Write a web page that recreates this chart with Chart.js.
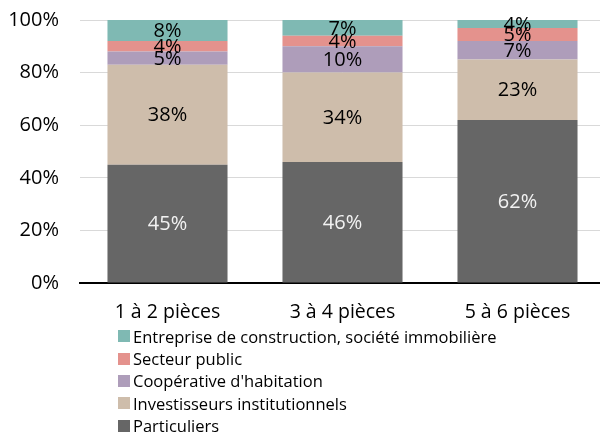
<!DOCTYPE html>
<html lang="fr">
<head>
<meta charset="utf-8">
<title>Propriétaires selon la taille du logement</title>
<script src="https://cdn.jsdelivr.net/npm/chart.js@4.4.1/dist/chart.umd.min.js"></script>
<style>
  html, body { margin: 0; padding: 0; background: #fff; width: 600px; height: 435px; overflow: hidden; }
  #wrap { position: absolute; left: 0; top: 0; width: 605px; height: 330px; }
  #legend { position: absolute; left: 118px; top: 325px; font-family: "Open Sans", sans-serif; font-size: 16.5px; color: #000; }
  .row { display: flex; align-items: center; height: 22.4px; white-space: nowrap; }
  .box { width: 12px; height: 12px; margin-right: 3px; flex: none; }
</style>
</head>
<body>
<div id="wrap"><canvas id="chart"></canvas></div>
<div id="legend"></div>
<script>
// Taille du logement
const categories = ['1 à 2 pièces', '3 à 4 pièces', '5 à 6 pièces'];

// Parts par type de propriétaire (en %)
const particuliers = [45, 46, 62];
const investisseurs = [38, 34, 23];
const cooperative = [5, 10, 7];
const secteurPublic = [4, 4, 5];
const entreprise = [8, 7, 4];

// Graduations de l'axe vertical
const yTicks = [0, 20, 40, 60, 80, 100];

const FONT = '"Open Sans", sans-serif';

// Étiquettes de valeur au centre de chaque segment
const valueLabels = {
  id: 'valueLabels',
  afterDatasetsDraw(chart) {
    const { ctx, chartArea } = chart;
    ctx.save();
    ctx.font = '20px ' + FONT;
    ctx.textAlign = 'center';
    ctx.textBaseline = 'middle';
    chart.data.datasets.forEach((ds, i) => {
      const meta = chart.getDatasetMeta(i);
      meta.data.forEach((bar, j) => {
        const top = Math.max(Math.min(bar.y, bar.base), chartArea.top);
        const bottom = Math.min(Math.max(bar.y, bar.base), chartArea.bottom);
        ctx.fillStyle = ds.labelColor;
        ctx.fillText(ds.data[j] + '%', bar.x, (top + bottom) / 2 + 1);
      });
    });
    ctx.restore();
  }
};

function draw() {
  const chart = new Chart(document.getElementById('chart'), {
    type: 'bar',
    data: {
      labels: categories,
      datasets: [
        { label: 'Particuliers', data: particuliers, backgroundColor: '#666666', labelColor: '#f2f2f2' },
        { label: 'Investisseurs institutionnels', data: investisseurs, backgroundColor: '#cebdab', labelColor: '#000' },
        { label: "Coopérative d'habitation", data: cooperative, backgroundColor: '#ae9dba', labelColor: '#000' },
        { label: 'Secteur public', data: secteurPublic, backgroundColor: '#e4928d', labelColor: '#000' },
        { label: 'Entreprise de construction, société immobilière', data: entreprise, backgroundColor: '#7fb9b3', labelColor: '#000' }
      ]
    },
    options: {
      responsive: true,
      maintainAspectRatio: false,
      animation: false,
      datasets: { bar: { categoryPercentage: 1, barPercentage: 0.686 } },
      layout: { padding: { top: 20, left: 0, right: 0, bottom: 0 } },
      plugins: { legend: { display: false }, tooltip: { enabled: false } },
      scales: {
        x: {
          stacked: true,
          grid: { display: false },
          border: { display: true, color: '#000', width: 2 },
          ticks: { color: '#000', font: { family: FONT, size: 19.5 }, padding: 10 },
          afterFit(s) { s.height = 47; s.paddingLeft = 0; s.paddingRight = 0; }
        },
        y: {
          stacked: true,
          min: 0,
          max: 100,
          afterBuildTicks(s) { s.ticks = yTicks.map(v => ({ value: v })); },
          grid: { color: '#d9d9d9', lineWidth: 1, drawTicks: false },
          border: { display: false },
          ticks: { color: '#000', font: { family: FONT, size: 20 }, padding: 21, callback: v => v + '%' },
          afterFit(s) { s.width = 80; s.paddingTop = 0; s.paddingBottom = 0; }
        }
      }
    },
    plugins: [valueLabels]
  });

  // Légende verticale, ordre inverse de l'empilement
  const legend = document.getElementById('legend');
  chart.data.datasets.slice().reverse().forEach(ds => {
    const row = document.createElement('div');
    row.className = 'row';
    const box = document.createElement('span');
    box.className = 'box';
    box.style.background = ds.backgroundColor;
    const txt = document.createElement('span');
    txt.textContent = ds.label;
    row.appendChild(box);
    row.appendChild(txt);
    legend.appendChild(row);
  });
}

if (document.fonts && document.fonts.load) {
  Promise.all([document.fonts.load('20px "Open Sans"'), document.fonts.load('16px "Open Sans"')])
    .then(draw, draw);
} else {
  draw();
}
</script>
</body>
</html>
